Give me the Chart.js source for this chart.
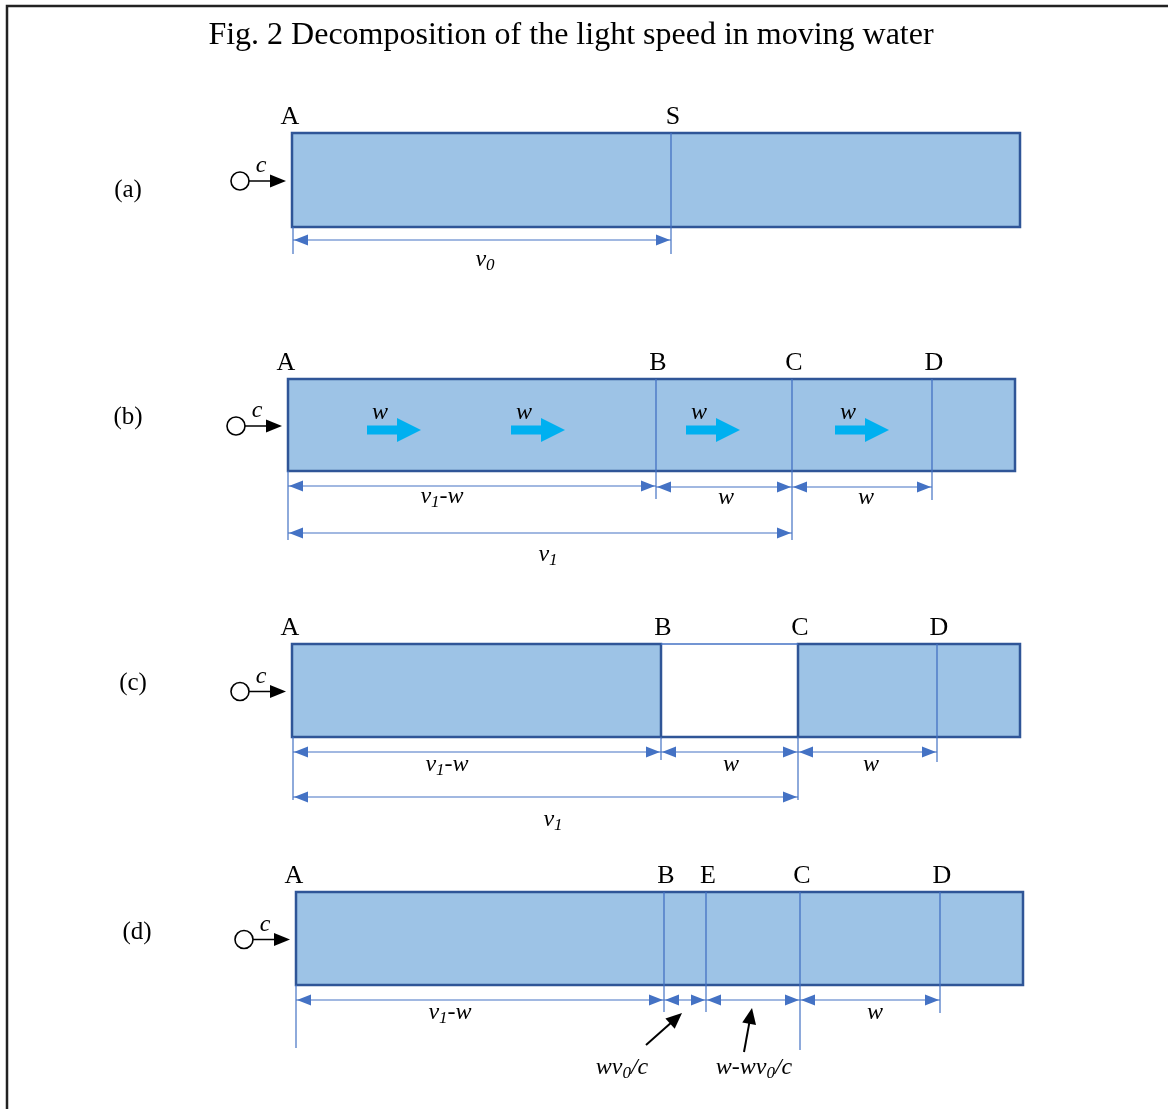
<!DOCTYPE html>
<html>
<head>
<meta charset="utf-8">
<script src="https://cdn.jsdelivr.net/npm/chart.js@4/dist/chart.umd.min.js"></script>
<style>
  body { margin: 0; background: #fff; }
  #fig { display: block; }
</style>
</head>
<body>
<canvas id="fig" width="1168" height="1109"></canvas>
<script>
// figure content
var title = 'Fig. 2 Decomposition of the light speed in moving water';
var panelNames = ['(a)', '(b)', '(c)', '(d)'];
var panelLabelX = [128, 128, 133, 137];
var panelLabelY = [190, 417, 683, 932];

// water boxes, one per panel
var boxLeft = [292, 288, 292, 296];
var boxRight = [1020, 1015, 1020, 1023];
var boxTop = [133, 379, 644, 892];
var boxBottom = [227, 471, 737, 985];

// points marked above each box
var markNames = [['A', 'S'], ['A', 'B', 'C', 'D'], ['A', 'B', 'C', 'D'], ['A', 'B', 'E', 'C', 'D']];
var markX = [[292, 671], [288, 656, 792, 932], [292, 661, 798, 937], [296, 664, 706, 800, 940]];

// panel (c): empty slot between B and C
var gapPanel = 2, gapFrom = 661, gapTo = 798;

// panel (b): water flow arrows
var flowX = [367, 511, 686, 835];

// dimension lines: [from, to, y, label, labelX, labelY]
var dims = [
  [[293, 671, 240, 'v_0', 485, 260]],
  [[288, 656, 486, 'v_1-w', 442, 497], [656, 792, 487, 'w', 726, 498], [792, 932, 487, 'w', 866, 498], [288, 792, 533, 'v_1', 548, 555]],
  [[293, 661, 752, 'v_1-w', 447, 765], [661, 798, 752, 'w', 731, 765], [798, 937, 752, 'w', 871, 765], [293, 798, 797, 'v_1', 553, 820]],
  [[296, 664, 1000, 'v_1-w', 450, 1013], [664, 706, 1000, '', 0, 0], [706, 800, 1000, '', 0, 0], [800, 940, 1000, 'w', 875, 1013]]
];

// extension lines below the boxes: x and lower end
var extX = [[293, 671], [288, 656, 792, 932], [293, 661, 798, 937], [296, 664, 706, 800, 940]];
var extEnd = [[254, 254], [540, 499, 540, 500], [800, 760, 800, 762], [1048, 1012, 1012, 1050, 1013]];

// panel (d): pointer arrows with their labels
var pointerFrom = [[646, 1045], [744, 1052]];
var pointerTo = [[682, 1013], [752, 1008]];
var pointerLabels = ['wv_0/c', 'w-wv_0/c'];
var pointerLabelX = [622, 754];
var pointerLabelY = 1068;

var FILL = '#9dc3e6', EDGE = '#2f5597', THIN = '#4472c4', FLOW = '#00b0f0';
var SERIF = "'Liberation Serif', 'Times New Roman', serif";
var ITALIC = 24;

var datasets = [];
function segment(x1, y1, x2, y2, color, width) {
  datasets.push({
    type: 'line', data: [{x: x1, y: y1}, {x: x2, y: y2}],
    borderColor: color, borderWidth: width, pointRadius: 0, fill: false
  });
}

for (var p = 0; p < 4; p++) {
  // dividers inside the box
  for (var m = 1; m < markX[p].length; m++) {
    if (p === gapPanel && (markX[p][m] === gapFrom || markX[p][m] === gapTo)) continue;
    segment(markX[p][m], boxTop[p], markX[p][m], boxBottom[p], THIN, 1.3);
  }
  for (var e = 0; e < extX[p].length; e++) {
    segment(extX[p][e], boxBottom[p], extX[p][e], extEnd[p][e], THIN, 1.2);
  }
  dims[p].forEach(function (d) { segment(d[0], d[2], d[1], d[2], THIN, 1.2); });
}

// light sources
datasets.push({
  type: 'scatter',
  data: boxLeft.map(function (x, i) { return {x: x - 52, y: (boxTop[i] + boxBottom[i]) / 2 + 1}; }),
  pointStyle: 'circle', pointRadius: 9, pointBackgroundColor: '#fff',
  pointBorderColor: '#000', pointBorderWidth: 1.6
});

function mathText(ctx, str, cx, cy, size) {
  var parts = [];
  for (var i = 0; i < str.length; i++) {
    if (str[i] === '_') { parts.push([str[i + 1], true]); i++; }
    else parts.push([str[i], false]);
  }
  var big = 'italic ' + size + 'px ' + SERIF, small = 'italic ' + Math.round(size * 0.72) + 'px ' + SERIF;
  var total = 0;
  parts.forEach(function (q) { ctx.font = q[1] ? small : big; total += ctx.measureText(q[0]).width; });
  var x = cx - total / 2;
  ctx.textAlign = 'left';
  ctx.textBaseline = 'middle';
  parts.forEach(function (q) {
    ctx.font = q[1] ? small : big;
    ctx.fillText(q[0], x, q[1] ? cy + size * 0.22 : cy);
    x += ctx.measureText(q[0]).width;
  });
}

function head(ctx, tx, ty, fx, fy, len, half, color) {
  var a = Math.atan2(ty - fy, tx - fx);
  ctx.save();
  ctx.translate(tx, ty);
  ctx.rotate(a);
  ctx.fillStyle = color;
  ctx.beginPath();
  ctx.moveTo(0, 0);
  ctx.lineTo(-len, -half);
  ctx.lineTo(-len, half);
  ctx.closePath();
  ctx.fill();
  ctx.restore();
}

var diagram = {
  id: 'diagram',
  beforeDatasetsDraw: function (chart) {
    var ctx = chart.ctx, X = chart.scales.x, Y = chart.scales.y;
    ctx.save();
    // frame
    ctx.strokeStyle = '#222';
    ctx.lineWidth = 2.5;
    ctx.beginPath();
    ctx.moveTo(X.getPixelForValue(1168), Y.getPixelForValue(6));
    ctx.lineTo(X.getPixelForValue(7), Y.getPixelForValue(6));
    ctx.lineTo(X.getPixelForValue(7), Y.getPixelForValue(1109));
    ctx.stroke();
    for (var p = 0; p < 4; p++) {
      var l = X.getPixelForValue(boxLeft[p]), r = X.getPixelForValue(boxRight[p]);
      var t = Y.getPixelForValue(boxTop[p]), b = Y.getPixelForValue(boxBottom[p]);
      ctx.fillStyle = FILL;
      ctx.fillRect(l, t, r - l, b - t);
      ctx.strokeStyle = EDGE;
      ctx.lineWidth = 2.5;
      if (p === gapPanel) {
        var g1 = X.getPixelForValue(gapFrom), g2 = X.getPixelForValue(gapTo);
        ctx.fillStyle = '#fff';
        ctx.fillRect(g1, t, g2 - g1, b - t);
        ctx.strokeRect(l, t, g1 - l, b - t);
        ctx.strokeRect(g2, t, r - g2, b - t);
        ctx.beginPath();
        ctx.moveTo(g1, b); ctx.lineTo(g2, b);
        ctx.stroke();
        ctx.strokeStyle = THIN;
        ctx.lineWidth = 1.3;
        ctx.beginPath();
        ctx.moveTo(g1, t); ctx.lineTo(g2, t);
        ctx.stroke();
      } else {
        ctx.strokeRect(l, t, r - l, b - t);
      }
      // source ray
      var sy = Y.getPixelForValue((boxTop[p] + boxBottom[p]) / 2 + 1);
      var sx = X.getPixelForValue(boxLeft[p] - 52);
      ctx.strokeStyle = '#000';
      ctx.lineWidth = 1.6;
      ctx.beginPath();
      ctx.moveTo(sx, sy); ctx.lineTo(X.getPixelForValue(boxLeft[p] - 16), sy);
      ctx.stroke();
    }
    ctx.restore();
  },
  afterDatasetsDraw: function (chart) {
    var ctx = chart.ctx, X = chart.scales.x, Y = chart.scales.y;
    ctx.save();
    ctx.fillStyle = '#000';
    ctx.textAlign = 'center';
    ctx.textBaseline = 'middle';
    ctx.font = '32px ' + SERIF;
    ctx.fillText(title, X.getPixelForValue(571), Y.getPixelForValue(36));
    for (var p = 0; p < 4; p++) {
      var my = (boxTop[p] + boxBottom[p]) / 2 + 1;
      ctx.fillStyle = '#000';
      ctx.textAlign = 'center';
      ctx.textBaseline = 'middle';
      ctx.font = '25px ' + SERIF;
      ctx.fillText(panelNames[p], X.getPixelForValue(panelLabelX[p]), Y.getPixelForValue(panelLabelY[p]));
      ctx.font = '26px ' + SERIF;
      for (var m = 0; m < markNames[p].length; m++) {
        ctx.fillText(markNames[p][m], X.getPixelForValue(markX[p][m] + (m === 0 ? -2 : 2)), Y.getPixelForValue(boxTop[p] - 16));
      }
      // source arrow head and c
      head(ctx, X.getPixelForValue(boxLeft[p] - 6), Y.getPixelForValue(my), X.getPixelForValue(boxLeft[p] - 30), Y.getPixelForValue(my), 16, 6.5, '#000');
      mathText(ctx, 'c', X.getPixelForValue(boxLeft[p] - 31), Y.getPixelForValue(my - 15), ITALIC);
      // dimension arrows and labels
      dims[p].forEach(function (d) {
        var a = X.getPixelForValue(d[0]), b = X.getPixelForValue(d[1]), y = Y.getPixelForValue(d[2]);
        head(ctx, a + 1, y, b, y, 14, 5.5, THIN);
        head(ctx, b - 1, y, a, y, 14, 5.5, THIN);
        if (d[3]) {
          ctx.fillStyle = '#000';
          mathText(ctx, d[3], X.getPixelForValue(d[4]), Y.getPixelForValue(d[5]), ITALIC);
        }
      });
    }
    // flow arrows in panel (b)
    var fy = 430;
    flowX.forEach(function (x) {
      var x0 = X.getPixelForValue(x), x1 = X.getPixelForValue(x + 30), x2 = X.getPixelForValue(x + 54);
      ctx.fillStyle = FLOW;
      ctx.fillRect(x0, Y.getPixelForValue(fy - 4.5), x1 - x0, Y.getPixelForValue(fy + 4.5) - Y.getPixelForValue(fy - 4.5));
      ctx.beginPath();
      ctx.moveTo(x1, Y.getPixelForValue(fy - 12));
      ctx.lineTo(x2, Y.getPixelForValue(fy));
      ctx.lineTo(x1, Y.getPixelForValue(fy + 12));
      ctx.closePath();
      ctx.fill();
      ctx.fillStyle = '#000';
      mathText(ctx, 'w', X.getPixelForValue(x + 13), Y.getPixelForValue(fy - 17), ITALIC);
    });
    // pointers in panel (d)
    for (var i = 0; i < pointerFrom.length; i++) {
      var fx = X.getPixelForValue(pointerFrom[i][0]), fyy = Y.getPixelForValue(pointerFrom[i][1]);
      var tx = X.getPixelForValue(pointerTo[i][0]), ty = Y.getPixelForValue(pointerTo[i][1]);
      var ang = Math.atan2(ty - fyy, tx - fx);
      ctx.strokeStyle = '#000';
      ctx.lineWidth = 2;
      ctx.beginPath();
      ctx.moveTo(fx, fyy);
      ctx.lineTo(tx - 12 * Math.cos(ang), ty - 12 * Math.sin(ang));
      ctx.stroke();
      head(ctx, tx, ty, fx, fyy, 16, 7, '#000');
      ctx.fillStyle = '#000';
      mathText(ctx, pointerLabels[i], X.getPixelForValue(pointerLabelX[i]), Y.getPixelForValue(pointerLabelY), ITALIC);
    }
    ctx.restore();
  }
};

new Chart(document.getElementById('fig'), {
  type: 'scatter',
  data: { datasets: datasets },
  options: {
    responsive: false,
    animation: false,
    events: [],
    layout: { padding: 0, autoPadding: false },
    plugins: { legend: { display: false }, tooltip: { enabled: false } },
    scales: {
      x: { type: 'linear', min: 0, max: 1168, display: false },
      y: { type: 'linear', min: 0, max: 1109, reverse: true, display: false }
    }
  },
  plugins: [diagram]
});
</script>
</body>
</html>
